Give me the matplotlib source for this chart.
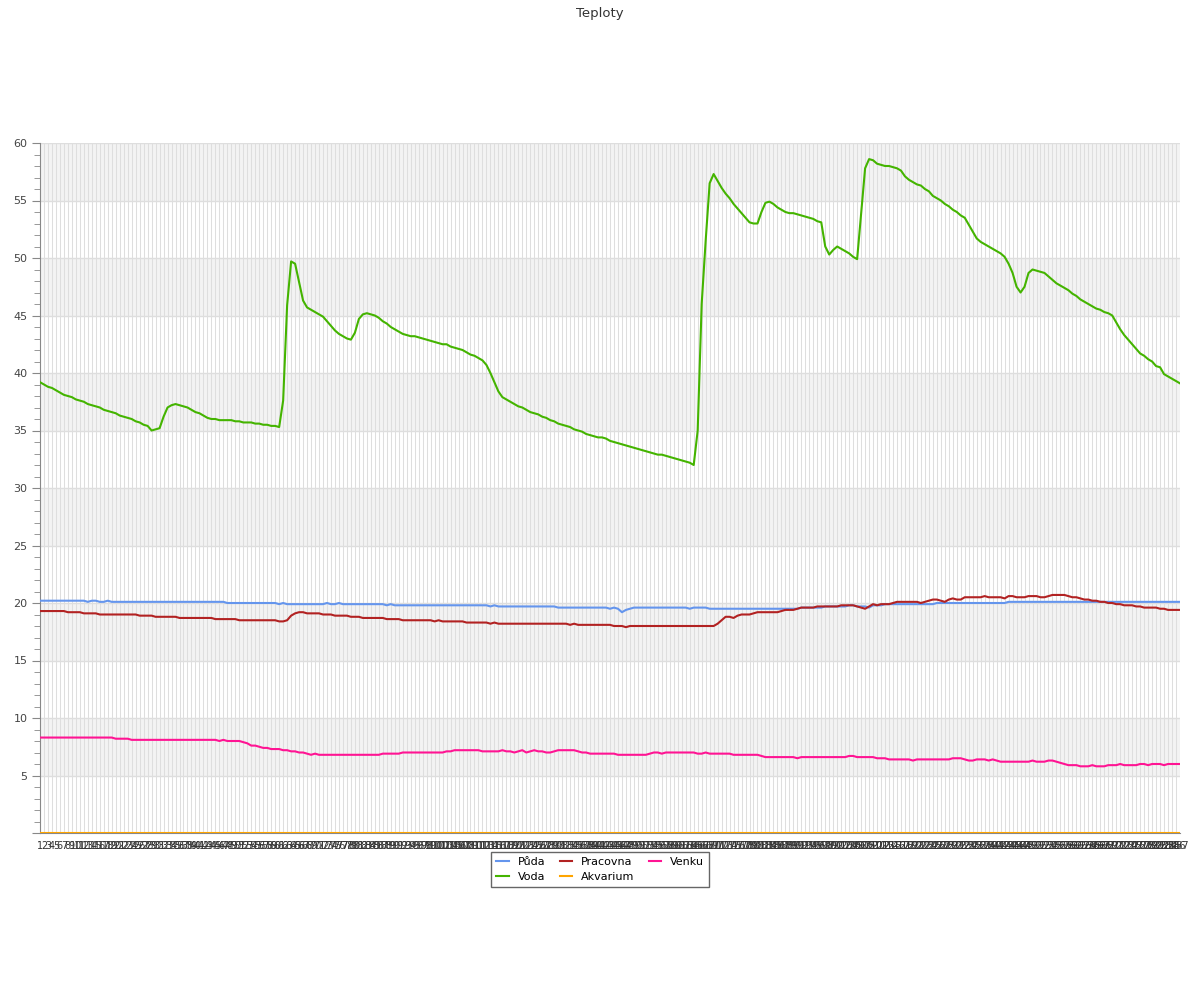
import matplotlib
matplotlib.use("Agg")
import matplotlib.pyplot as plt
from matplotlib.ticker import MultipleLocator

# hodnoty, jeden bod na měření (1..287)
voda = [
    39.2, 39.0, 38.8, 38.7, 38.5, 38.3, 38.1, 38.0, 37.9, 37.7,
    37.6, 37.5, 37.3, 37.2, 37.1, 37.0, 36.8, 36.7, 36.6, 36.5,
    36.3, 36.2, 36.1, 36.0, 35.8, 35.7, 35.5, 35.4, 35.0, 35.1,
    35.2, 36.2, 37.0, 37.2, 37.3, 37.2, 37.1, 37.0, 36.8, 36.6,
    36.5, 36.3, 36.1, 36.0, 36.0, 35.9, 35.9, 35.9, 35.9, 35.8,
    35.8, 35.7, 35.7, 35.7, 35.6, 35.6, 35.5, 35.5, 35.4, 35.4,
    35.3, 37.6, 45.9, 49.7, 49.5, 47.9, 46.3, 45.7, 45.5, 45.3,
    45.1, 44.9, 44.5, 44.1, 43.7, 43.4, 43.2, 43.0, 42.9, 43.5,
    44.7, 45.1, 45.2, 45.1, 45.0, 44.8, 44.5, 44.3, 44.0, 43.8,
    43.6, 43.4, 43.3, 43.2, 43.2, 43.1, 43.0, 42.9, 42.8, 42.7,
    42.6, 42.5, 42.5, 42.3, 42.2, 42.1, 42.0, 41.8, 41.6, 41.5,
    41.3, 41.1, 40.7, 40.0, 39.2, 38.4, 37.9, 37.7, 37.5, 37.3,
    37.1, 37.0, 36.8, 36.6, 36.5, 36.4, 36.2, 36.1, 35.9, 35.8,
    35.6, 35.5, 35.4, 35.3, 35.1, 35.0, 34.9, 34.7, 34.6, 34.5,
    34.4, 34.4, 34.3, 34.1, 34.0, 33.9, 33.8, 33.7, 33.6, 33.5,
    33.4, 33.3, 33.2, 33.1, 33.0, 32.9, 32.9, 32.8, 32.7, 32.6,
    32.5, 32.4, 32.3, 32.2, 32.0, 35.0, 46.0, 51.5, 56.5, 57.3,
    56.7, 56.1, 55.6, 55.2, 54.7, 54.3, 53.9, 53.5, 53.1, 53.0,
    53.0, 54.0, 54.8, 54.9, 54.7, 54.4, 54.2, 54.0, 53.9, 53.9,
    53.8, 53.7, 53.6, 53.5, 53.4, 53.2, 53.1, 51.0, 50.3, 50.7,
    51.0, 50.8, 50.6, 50.4, 50.1, 49.9, 53.8, 57.8, 58.6, 58.5,
    58.2, 58.1, 58.0, 58.0, 57.9, 57.8, 57.6, 57.1, 56.8, 56.6,
    56.4, 56.3, 56.0, 55.8, 55.4, 55.2, 55.0, 54.7, 54.5, 54.2,
    54.0, 53.7, 53.5, 52.9, 52.3, 51.7, 51.4, 51.2, 51.0, 50.8,
    50.6, 50.4, 50.1, 49.5, 48.7, 47.5, 47.0, 47.5, 48.7, 49.0,
    48.9, 48.8, 48.7, 48.4, 48.1, 47.8, 47.6, 47.4, 47.2, 46.9,
    46.7, 46.4, 46.2, 46.0, 45.8, 45.6, 45.5, 45.3, 45.2, 45.0,
    44.4, 43.8, 43.3, 42.9, 42.5, 42.1, 41.7, 41.5, 41.2, 41.0,
    40.6, 40.5, 39.9, 39.7, 39.5, 39.3, 39.1,
]

puda = [
    20.2, 20.2, 20.2, 20.2, 20.2, 20.2, 20.2, 20.2, 20.2, 20.2,
    20.2, 20.2, 20.1, 20.2, 20.2, 20.1, 20.1, 20.2, 20.1, 20.1,
    20.1, 20.1, 20.1, 20.1, 20.1, 20.1, 20.1, 20.1, 20.1, 20.1,
    20.1, 20.1, 20.1, 20.1, 20.1, 20.1, 20.1, 20.1, 20.1, 20.1,
    20.1, 20.1, 20.1, 20.1, 20.1, 20.1, 20.1, 20.0, 20.0, 20.0,
    20.0, 20.0, 20.0, 20.0, 20.0, 20.0, 20.0, 20.0, 20.0, 20.0,
    19.9, 20.0, 19.9, 19.9, 19.9, 19.9, 19.9, 19.9, 19.9, 19.9,
    19.9, 19.9, 20.0, 19.9, 19.9, 20.0, 19.9, 19.9, 19.9, 19.9,
    19.9, 19.9, 19.9, 19.9, 19.9, 19.9, 19.9, 19.8, 19.9, 19.8,
    19.8, 19.8, 19.8, 19.8, 19.8, 19.8, 19.8, 19.8, 19.8, 19.8,
    19.8, 19.8, 19.8, 19.8, 19.8, 19.8, 19.8, 19.8, 19.8, 19.8,
    19.8, 19.8, 19.8, 19.7, 19.8, 19.7, 19.7, 19.7, 19.7, 19.7,
    19.7, 19.7, 19.7, 19.7, 19.7, 19.7, 19.7, 19.7, 19.7, 19.7,
    19.6, 19.6, 19.6, 19.6, 19.6, 19.6, 19.6, 19.6, 19.6, 19.6,
    19.6, 19.6, 19.6, 19.5, 19.6, 19.5, 19.2, 19.4, 19.5, 19.6,
    19.6, 19.6, 19.6, 19.6, 19.6, 19.6, 19.6, 19.6, 19.6, 19.6,
    19.6, 19.6, 19.6, 19.5, 19.6, 19.6, 19.6, 19.6, 19.5, 19.5,
    19.5, 19.5, 19.5, 19.5, 19.5, 19.5, 19.5, 19.5, 19.5, 19.5,
    19.5, 19.5, 19.5, 19.5, 19.5, 19.5, 19.5, 19.5, 19.5, 19.5,
    19.5, 19.6, 19.6, 19.6, 19.6, 19.6, 19.6, 19.7, 19.7, 19.7,
    19.7, 19.7, 19.7, 19.8, 19.8, 19.7, 19.7, 19.7, 19.6, 19.8,
    19.8, 19.8, 19.9, 19.9, 19.9, 19.9, 19.9, 19.9, 19.9, 19.9,
    19.9, 19.9, 19.9, 19.9, 19.9, 20.0, 20.0, 20.0, 20.0, 20.0,
    20.0, 20.0, 20.0, 20.0, 20.0, 20.0, 20.0, 20.0, 20.0, 20.0,
    20.0, 20.0, 20.0, 20.1, 20.1, 20.1, 20.1, 20.1, 20.1, 20.1,
    20.1, 20.1, 20.1, 20.1, 20.1, 20.1, 20.1, 20.1, 20.1, 20.1,
    20.1, 20.1, 20.1, 20.1, 20.1, 20.1, 20.1, 20.1, 20.1, 20.1,
    20.1, 20.1, 20.1, 20.1, 20.1, 20.1, 20.1, 20.1, 20.1, 20.1,
    20.1, 20.1, 20.1, 20.1, 20.1, 20.1, 20.1,
]

pracovna = [
    19.3, 19.3, 19.3, 19.3, 19.3, 19.3, 19.3, 19.2, 19.2, 19.2,
    19.2, 19.1, 19.1, 19.1, 19.1, 19.0, 19.0, 19.0, 19.0, 19.0,
    19.0, 19.0, 19.0, 19.0, 19.0, 18.9, 18.9, 18.9, 18.9, 18.8,
    18.8, 18.8, 18.8, 18.8, 18.8, 18.7, 18.7, 18.7, 18.7, 18.7,
    18.7, 18.7, 18.7, 18.7, 18.6, 18.6, 18.6, 18.6, 18.6, 18.6,
    18.5, 18.5, 18.5, 18.5, 18.5, 18.5, 18.5, 18.5, 18.5, 18.5,
    18.4, 18.4, 18.5, 18.9, 19.1, 19.2, 19.2, 19.1, 19.1, 19.1,
    19.1, 19.0, 19.0, 19.0, 18.9, 18.9, 18.9, 18.9, 18.8, 18.8,
    18.8, 18.7, 18.7, 18.7, 18.7, 18.7, 18.7, 18.6, 18.6, 18.6,
    18.6, 18.5, 18.5, 18.5, 18.5, 18.5, 18.5, 18.5, 18.5, 18.4,
    18.5, 18.4, 18.4, 18.4, 18.4, 18.4, 18.4, 18.3, 18.3, 18.3,
    18.3, 18.3, 18.3, 18.2, 18.3, 18.2, 18.2, 18.2, 18.2, 18.2,
    18.2, 18.2, 18.2, 18.2, 18.2, 18.2, 18.2, 18.2, 18.2, 18.2,
    18.2, 18.2, 18.2, 18.1, 18.2, 18.1, 18.1, 18.1, 18.1, 18.1,
    18.1, 18.1, 18.1, 18.1, 18.0, 18.0, 18.0, 17.9, 18.0, 18.0,
    18.0, 18.0, 18.0, 18.0, 18.0, 18.0, 18.0, 18.0, 18.0, 18.0,
    18.0, 18.0, 18.0, 18.0, 18.0, 18.0, 18.0, 18.0, 18.0, 18.0,
    18.2, 18.5, 18.8, 18.8, 18.7, 18.9, 19.0, 19.0, 19.0, 19.1,
    19.2, 19.2, 19.2, 19.2, 19.2, 19.2, 19.3, 19.4, 19.4, 19.4,
    19.5, 19.6, 19.6, 19.6, 19.6, 19.7, 19.7, 19.7, 19.7, 19.7,
    19.7, 19.8, 19.8, 19.8, 19.8, 19.7, 19.6, 19.5, 19.7, 19.9,
    19.8, 19.9, 19.9, 19.9, 20.0, 20.1, 20.1, 20.1, 20.1, 20.1,
    20.1, 20.0, 20.1, 20.2, 20.3, 20.3, 20.2, 20.1, 20.3, 20.4,
    20.3, 20.3, 20.5, 20.5, 20.5, 20.5, 20.5, 20.6, 20.5, 20.5,
    20.5, 20.5, 20.4, 20.6, 20.6, 20.5, 20.5, 20.5, 20.6, 20.6,
    20.6, 20.5, 20.5, 20.6, 20.7, 20.7, 20.7, 20.7, 20.6, 20.5,
    20.5, 20.4, 20.3, 20.3, 20.2, 20.2, 20.1, 20.1, 20.0, 20.0,
    19.9, 19.9, 19.8, 19.8, 19.8, 19.7, 19.7, 19.6, 19.6, 19.6,
    19.6, 19.5, 19.5, 19.4, 19.4, 19.4, 19.4,
]

akvarium = [
    0, 0, 0, 0, 0, 0, 0, 0, 0, 0, 0, 0, 0, 0, 0, 0, 0, 0, 0, 0,
    0, 0, 0, 0, 0, 0, 0, 0, 0, 0, 0, 0, 0, 0, 0, 0, 0, 0, 0, 0,
    0, 0, 0, 0, 0, 0, 0, 0, 0, 0, 0, 0, 0, 0, 0, 0, 0, 0, 0, 0,
    0, 0, 0, 0, 0, 0, 0, 0, 0, 0, 0, 0, 0, 0, 0, 0, 0, 0, 0, 0,
    0, 0, 0, 0, 0, 0, 0, 0, 0, 0, 0, 0, 0, 0, 0, 0, 0, 0, 0, 0,
    0, 0, 0, 0, 0, 0, 0, 0, 0, 0, 0, 0, 0, 0, 0, 0, 0, 0, 0, 0,
    0, 0, 0, 0, 0, 0, 0, 0, 0, 0, 0, 0, 0, 0, 0, 0, 0, 0, 0, 0,
    0, 0, 0, 0, 0, 0, 0, 0, 0, 0, 0, 0, 0, 0, 0, 0, 0, 0, 0, 0,
    0, 0, 0, 0, 0, 0, 0, 0, 0, 0, 0, 0, 0, 0, 0, 0, 0, 0, 0, 0,
    0, 0, 0, 0, 0, 0, 0, 0, 0, 0, 0, 0, 0, 0, 0, 0, 0, 0, 0, 0,
    0, 0, 0, 0, 0, 0, 0, 0, 0, 0, 0, 0, 0, 0, 0, 0, 0, 0, 0, 0,
    0, 0, 0, 0, 0, 0, 0, 0, 0, 0, 0, 0, 0, 0, 0, 0, 0, 0, 0, 0,
    0, 0, 0, 0, 0, 0, 0, 0, 0, 0, 0, 0, 0, 0, 0, 0, 0, 0, 0, 0,
    0, 0, 0, 0, 0, 0, 0, 0, 0, 0, 0, 0, 0, 0, 0, 0, 0, 0, 0, 0,
    0, 0, 0, 0, 0, 0, 0,
]

venku = [
    8.3, 8.3, 8.3, 8.3, 8.3, 8.3, 8.3, 8.3, 8.3, 8.3,
    8.3, 8.3, 8.3, 8.3, 8.3, 8.3, 8.3, 8.3, 8.3, 8.2,
    8.2, 8.2, 8.2, 8.1, 8.1, 8.1, 8.1, 8.1, 8.1, 8.1,
    8.1, 8.1, 8.1, 8.1, 8.1, 8.1, 8.1, 8.1, 8.1, 8.1,
    8.1, 8.1, 8.1, 8.1, 8.1, 8.0, 8.1, 8.0, 8.0, 8.0,
    8.0, 7.9, 7.8, 7.6, 7.6, 7.5, 7.4, 7.4, 7.3, 7.3,
    7.3, 7.2, 7.2, 7.1, 7.1, 7.0, 7.0, 6.9, 6.8, 6.9,
    6.8, 6.8, 6.8, 6.8, 6.8, 6.8, 6.8, 6.8, 6.8, 6.8,
    6.8, 6.8, 6.8, 6.8, 6.8, 6.8, 6.9, 6.9, 6.9, 6.9,
    6.9, 7.0, 7.0, 7.0, 7.0, 7.0, 7.0, 7.0, 7.0, 7.0,
    7.0, 7.0, 7.1, 7.1, 7.2, 7.2, 7.2, 7.2, 7.2, 7.2,
    7.2, 7.1, 7.1, 7.1, 7.1, 7.1, 7.2, 7.1, 7.1, 7.0,
    7.1, 7.2, 7.0, 7.1, 7.2, 7.1, 7.1, 7.0, 7.0, 7.1,
    7.2, 7.2, 7.2, 7.2, 7.2, 7.1, 7.0, 7.0, 6.9, 6.9,
    6.9, 6.9, 6.9, 6.9, 6.9, 6.8, 6.8, 6.8, 6.8, 6.8,
    6.8, 6.8, 6.8, 6.9, 7.0, 7.0, 6.9, 7.0, 7.0, 7.0,
    7.0, 7.0, 7.0, 7.0, 7.0, 6.9, 6.9, 7.0, 6.9, 6.9,
    6.9, 6.9, 6.9, 6.9, 6.8, 6.8, 6.8, 6.8, 6.8, 6.8,
    6.8, 6.7, 6.6, 6.6, 6.6, 6.6, 6.6, 6.6, 6.6, 6.6,
    6.5, 6.6, 6.6, 6.6, 6.6, 6.6, 6.6, 6.6, 6.6, 6.6,
    6.6, 6.6, 6.6, 6.7, 6.7, 6.6, 6.6, 6.6, 6.6, 6.6,
    6.5, 6.5, 6.5, 6.4, 6.4, 6.4, 6.4, 6.4, 6.4, 6.3,
    6.4, 6.4, 6.4, 6.4, 6.4, 6.4, 6.4, 6.4, 6.4, 6.5,
    6.5, 6.5, 6.4, 6.3, 6.3, 6.4, 6.4, 6.4, 6.3, 6.4,
    6.3, 6.2, 6.2, 6.2, 6.2, 6.2, 6.2, 6.2, 6.2, 6.3,
    6.2, 6.2, 6.2, 6.3, 6.3, 6.2, 6.1, 6.0, 5.9, 5.9,
    5.9, 5.8, 5.8, 5.8, 5.9, 5.8, 5.8, 5.8, 5.9, 5.9,
    5.9, 6.0, 5.9, 5.9, 5.9, 5.9, 6.0, 6.0, 5.9, 6.0,
    6.0, 6.0, 5.9, 6.0, 6.0, 6.0, 6.0,
]

series = [
    ("Půda", puda, "#6495ED"),
    ("Voda", voda, "#44B400"),
    ("Pracovna", pracovna, "#B22222"),
    ("Akvarium", akvarium, "#FFA500"),
    ("Venku", venku, "#FF1493"),
]

n = len(voda)
labels = [str(i) for i in range(1, n + 1)]

fig = plt.figure(figsize=(12, 10), dpi=100)
fig.subplots_adjust(left=40 / 1200, right=1180 / 1200, top=1 - 143 / 1000, bottom=1 - 833 / 1000)
ax = fig.add_subplot(111)

# střídavé šedé pruhy
for lo in range(5, 60, 10):
    ax.axhspan(lo, lo + 5, color="#f3f3f3", zorder=0, lw=0)

for name, vals, col in series:
    x = range(1, len(vals) + 1)
    ax.plot(x, vals, color=col, lw=1.5, label=name, zorder=3)

ax.set_xlim(1, n)
ax.set_ylim(0, 60)
ax.set_xticks(range(1, n + 1))
ax.set_xticklabels(labels, fontsize=7, color="#333333")
ax.tick_params(axis="x", length=0, pad=6)

ax.yaxis.set_major_locator(MultipleLocator(5))
ax.yaxis.set_minor_locator(MultipleLocator(1))
ax.set_yticks(range(0, 61, 5))
ax.set_yticklabels([""] + [str(v) for v in range(5, 61, 5)], fontsize=8, color="#444444")
ax.tick_params(axis="y", which="major", length=6, color="#888888", pad=3)
ax.tick_params(axis="y", which="minor", length=4, color="#888888")

ax.grid(True, axis="x", color="#dedede", lw=0.75, zorder=1)
ax.grid(True, axis="y", which="major", color="#dedede", lw=1, zorder=1)
ax.set_axisbelow(True)

for s in ["top", "right"]:
    ax.spines[s].set_visible(False)
ax.spines["left"].set_color("#888888")
ax.spines["bottom"].set_color("#888888")

fig.suptitle("Teploty", y=0.993, fontsize=9.5, color="#333333")

handles, names = ax.get_legend_handles_labels()
leg = fig.legend(handles, names, loc="upper center", bbox_to_anchor=(0.5, 0.154),
                 ncol=3, fontsize=8, fancybox=False, edgecolor="#666666",
                 handlelength=1.1, handletextpad=0.8, columnspacing=1.3,
                 labelspacing=0.45, borderpad=0.45, framealpha=1)
leg.get_frame().set_linewidth(1)

fig.savefig("out.png", dpi=100)
